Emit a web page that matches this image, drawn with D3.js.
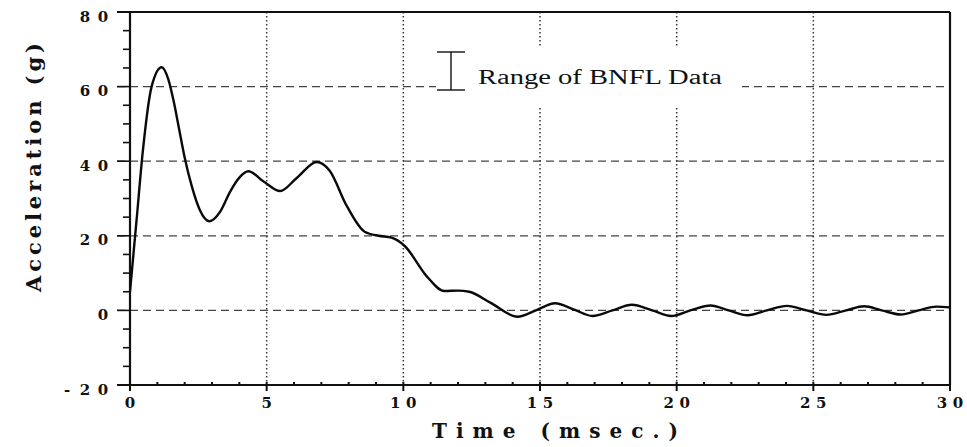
<!DOCTYPE html>
<html>
<head>
<meta charset="utf-8">
<script src="https://cdn.jsdelivr.net/npm/d3@7"></script>
<style>
  body { margin: 0; background: #fff; }
  svg { display: block; }
  .tick-lbl { font-family: "DejaVu Serif", serif; font-weight: bold; font-size: 15px; fill: #111; }
  .ttl { font-family: "DejaVu Serif", serif; font-weight: bold; fill: #111; }
</style>
</head>
<body>
<svg width="967" height="447"></svg>
<script>
const width = 967;
const height = 447;

// values
const timeMs = [0, 0.25, 0.46, 0.79, 1.16, 1.4, 1.6, 1.8, 2.0, 2.26, 2.55, 2.9, 3.3, 3.66, 4.0, 4.33, 4.9, 5.49, 6.1, 6.83, 7.3, 7.93, 8.6, 9.1, 9.57,
  10.06, 10.85, 11.5, 12.0, 12.41, 13.2, 14.18, 14.85, 15.55, 16.25, 16.92, 17.65, 18.36, 19.1, 19.8, 20.5, 21.24,
  21.9, 22.6, 23.3, 24.04, 24.75, 25.48, 26.2, 26.86, 27.5, 28.2, 28.85, 29.5, 30];
const accelG = [5, 25, 42, 60, 65.2, 62, 56, 48.5, 41, 33.3, 27, 23.9, 26.5, 31.8, 35.6, 37.3, 34.5, 32, 35.5, 39.8, 37.5, 28, 21, 20, 19.5,
  17.2, 9.2, 5.2, 5.3, 5, 2, -1.7, 0, 1.9, 0.2, -1.5, 0, 1.5, 0, -1.5, 0, 1.3,
  0, -1.3, 0, 1.2, 0, -1.2, 0, 1.1, 0, -1.1, 0, 1.0, 0.8];

const xTicks = [0, 5, 10, 15, 20, 25, 30];
const yTicks = [-20, 0, 20, 40, 60, 80];
const legendLabel = "Range of BNFL Data";

const svg = d3.select('svg');
const x = d3.scaleLinear().domain([0, 30]).range([130, 950]);
const y = d3.scaleLinear().domain([-20, 80]).range([385, 12]);

// grid
svg.append('g').selectAll('line').data(yTicks.filter(d => d > -20 && d < 80))
  .enter().append('line')
  .attr('x1', 117).attr('x2', x(30))
  .attr('y1', d => y(d)).attr('y2', d => y(d))
  .attr('stroke', '#444').attr('stroke-width', 1.3).attr('stroke-dasharray', '8,5');

svg.append('g').selectAll('line').data(xTicks.filter(d => d > 0 && d < 30))
  .enter().append('line')
  .attr('x1', d => x(d)).attr('x2', d => x(d))
  .attr('y1', y(80)).attr('y2', y(-20))
  .attr('stroke', '#333').attr('stroke-width', 1.5).attr('stroke-dasharray', '1.6,2.4');

// legend box (covers grid)
svg.append('rect').attr('x', 436).attr('y', 48).attr('width', 306).attr('height', 59).attr('fill', '#fff');
const lg = svg.append('g').attr('stroke', '#111').attr('stroke-width', 1.4);
lg.append('line').attr('x1', 451).attr('x2', 451).attr('y1', 52).attr('y2', 90);
lg.append('line').attr('x1', 437).attr('x2', 465).attr('y1', 52).attr('y2', 52);
lg.append('line').attr('x1', 437).attr('x2', 465).attr('y1', 90).attr('y2', 90);
svg.append('text').attr('x', 478).attr('y', 84)
  .attr('textLength', 244).attr('lengthAdjust', 'spacingAndGlyphs')
  .style('font-family', '"Liberation Serif", serif').style('font-size', '20px').attr('fill', '#111')
  .text(legendLabel);

// frame / axes
const frame = svg.append('g').attr('stroke', '#111').attr('fill', 'none');
frame.append('line').attr('x1', 117).attr('x2', x(30)).attr('y1', y(80)).attr('y2', y(80)).attr('stroke-width', 2);
frame.append('line').attr('x1', x(30)).attr('x2', x(30)).attr('y1', y(80)).attr('y2', y(-20)).attr('stroke-width', 2.2);
frame.append('line').attr('x1', x(0)).attr('x2', x(0)).attr('y1', y(80)).attr('y2', y(-20) + 1).attr('stroke-width', 2.2);
frame.append('line').attr('x1', 117).attr('x2', x(30)).attr('y1', y(-20)).attr('y2', y(-20)).attr('stroke-width', 2);

// y minor ticks (every 5), pointing out
frame.selectAll('.ym').data(d3.range(-20, 81, 5)).enter().append('line')
  .attr('x1', d => yTicks.includes(d) ? 117 : 123).attr('x2', x(0))
  .attr('y1', d => y(d)).attr('y2', d => y(d)).attr('stroke-width', 1.6);

// x minor ticks (every 1)
frame.selectAll('.xm').data(d3.range(1, 30, 1)).enter().append('line')
  .attr('x1', d => x(d)).attr('x2', d => x(d))
  .attr('y1', y(-20) - 3).attr('y2', y(-20)).attr('stroke-width', 2);
frame.selectAll('.xM').data(xTicks).enter().append('line')
  .attr('x1', d => x(d)).attr('x2', d => x(d))
  .attr('y1', y(-20)).attr('y2', y(-20) + 6).attr('stroke-width', 2);

// tick labels: characters set on a wide fixed pitch, like the original plotter font
function spaced(sel, str, cx, pitch, anchor) {
  const chars = String(str).split('');
  const n = chars.length;
  chars.forEach((c, i) => {
    const px = anchor === 'end' ? cx - (n - 1 - i) * pitch : cx + (i - (n - 1) / 2) * pitch;
    sel.append('tspan').attr('x', px).text(c);
  });
}
svg.selectAll('.yl').data(yTicks).enter().append('text')
  .attr('class', 'tick-lbl').attr('text-anchor', 'middle')
  .attr('y', d => y(d) + 9.5)
  .each(function (d) { spaced(d3.select(this), d, 103, 18, 'end'); });
svg.selectAll('.xl').data(xTicks).enter().append('text')
  .attr('class', 'tick-lbl').attr('text-anchor', 'middle')
  .attr('y', 408)
  .each(function (d) { spaced(d3.select(this), d, x(d), 16, 'middle'); });

// axis titles
svg.append('text').attr('class', 'ttl')
  .attr('x', 432).attr('y', 438)
  .attr('textLength', 246).attr('lengthAdjust', 'spacing')
  .style('font-size', '20px')
  .text('Time (msec.)');
svg.append('text').attr('class', 'ttl')
  .attr('transform', 'translate(41,292) rotate(-90)')
  .attr('textLength', 249).attr('lengthAdjust', 'spacing')
  .style('font-size', '21px')
  .text('Acceleration (g)');

// curve
const line = d3.line()
  .x((d, i) => x(timeMs[i]))
  .y(d => y(d))
  .curve(d3.curveMonotoneX);
svg.append('path').datum(accelG)
  .attr('d', line)
  .attr('fill', 'none').attr('stroke', '#0a0a0a').attr('stroke-width', 2.4);
</script>
</body>
</html>
